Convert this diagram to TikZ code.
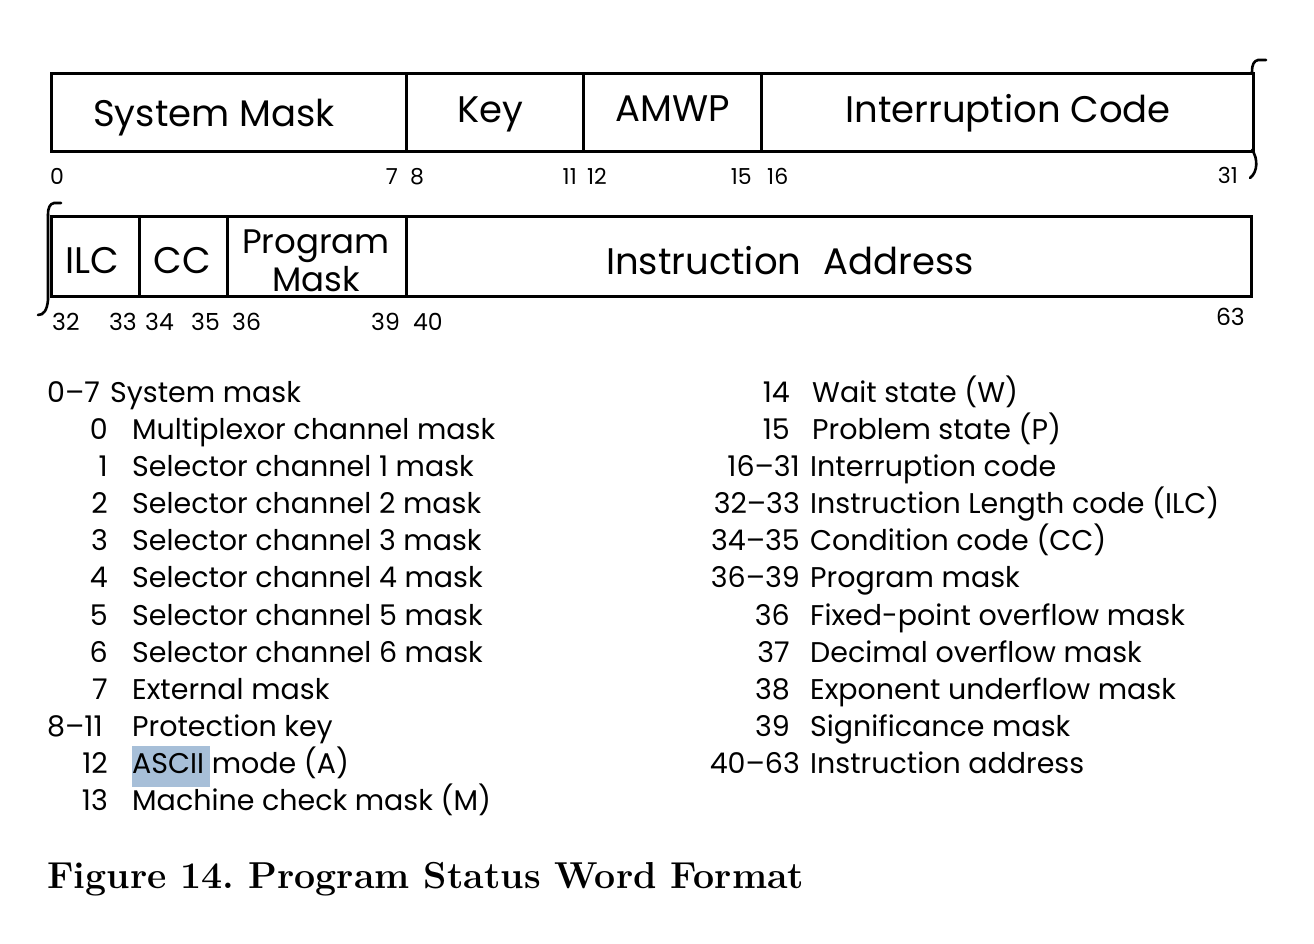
\documentclass[tikz,border=0pt]{standalone}
\usepackage{fontspec}
\newfontfamily\pop{Poppins}
\begin{document}
\begin{tikzpicture}[x=1pt,y=-1pt,
  fieldbox/.style={draw, line width=2.6pt, inner sep=0pt, anchor=north west},
  flabel/.style={font=\pop\fontsize{37}{40}\selectfont, inner sep=0pt, anchor=base},
  flabels/.style={font=\pop\fontsize{34}{38}\selectfont, inner sep=0pt, anchor=base},
  bitl/.style={font=\pop\fontsize{22}{24}\selectfont, inner sep=0pt, anchor=base west},
  bitr/.style={font=\pop\fontsize{22}{24}\selectfont, inner sep=0pt, anchor=base east},
  bitlb/.style={font=\pop\fontsize{23.5}{26}\selectfont, inner sep=0pt, anchor=base west},
  bitrb/.style={font=\pop\fontsize{23.5}{26}\selectfont, inner sep=0pt, anchor=base east},
  itm/.style={font=\pop\fontsize{28.5}{32}\selectfont, inner sep=0pt, anchor=base west},
  num/.style={font=\pop\fontsize{28.5}{32}\selectfont, inner sep=0pt, anchor=base east},
  hookline/.style={line width=2.6pt, line cap=round}]
\useasboundingbox (0,0) rectangle (1314,943);
% ---- row 1 ----
\node[fieldbox, minimum width=355, minimum height=78] (sm) at (50,72) {};
\node[fieldbox, minimum width=177, minimum height=78] (key) at (405,72) {};
\node[fieldbox, minimum width=178, minimum height=78] (amwp) at (582,72) {};
\node[fieldbox, minimum width=492, minimum height=78] (ic) at (760,72) {};
\node[flabel] (tsm) at (214,126) {System Mask};
\node[flabel] (tkey) at (490,122) {Key};
\node[flabel] (tamwp) at (673,121) {AMWP};
\node[flabel] (tic) at (1008,122) {Interruption Code};
\node[bitl] (b0) at (50,184) {0};
\node[bitr] (b7) at (398,184) {7};
\node[bitl] (b8) at (410,184) {8};
\node[bitr] (b11) at (577,184) {11};
\node[bitl] (b12) at (587,184) {12};
\node[bitr] (b15) at (752,184) {15};
\node[bitl] (b16) at (767,184) {16};
\node[bitr] (b31) at (1238,183) {31};
\draw[hookline] (1252,72) .. controls (1252,64) and (1254,61) .. (1258,60) -- (1266,60);
\draw[hookline] (1252,150) .. controls (1258,158) and (1258,172) .. (1250,178);
% ---- row 2 ----
\node[fieldbox, minimum width=88, minimum height=80] (ilc) at (50,215) {};
\node[fieldbox, minimum width=88, minimum height=80] (cc) at (138,215) {};
\node[fieldbox, minimum width=179, minimum height=80] (pm) at (226,215) {};
\node[fieldbox, minimum width=845, minimum height=80] (ia) at (405,215) {};
\node[flabel] (tilc) at (92,273) {ILC};
\node[flabel] (tcc) at (182,273) {CC};
\node[flabels] (tpm1) at (316,253) {Program};
\node[flabels] (tpm2) at (316,291) {Mask};
\node[flabel] (tia) at (790,274) {Instruction\hspace{0.6em}Address};
\node[bitlb] (b32) at (52,330) {32};
\node[bitrb] (b33) at (137,330) {33};
\node[bitlb] (b34) at (145,330) {34};
\node[bitrb] (b35) at (220,330) {35};
\node[bitlb] (b36) at (232,330) {36};
\node[bitrb] (b39) at (400,330) {39};
\node[bitlb] (b40) at (413,330) {40};
\node[bitrb] (b63) at (1245,325) {63};
\draw[hookline] (48,215) .. controls (48,207) and (50,204) .. (54,203) -- (61,203);
\draw[hookline] (48,215) -- (48,300) .. controls (47,310) and (44,315) .. (38,315);
% ---- highlight ----
\fill[fill={rgb,255:red,167;green,191;blue,216}] (132,746) rectangle (210,787);
% ---- left list ----
\node[itm] (l0a) at (47,402) {0–7};
\node[itm] (l0b) at (110,402) {System mask};
\node[num] (l1n) at (108,439) {0};   \node[itm] (l1t) at (132,439) {Multiplexor channel mask};
\node[num] (l2n) at (108,476) {1};   \node[itm] (l2t) at (132,476) {Selector channel 1 mask};
\node[num] (l3n) at (108,513) {2};   \node[itm] (l3t) at (132,513) {Selector channel 2 mask};
\node[num] (l4n) at (108,550) {3};   \node[itm] (l4t) at (132,550) {Selector channel 3 mask};
\node[num] (l5n) at (108,587) {4};   \node[itm] (l5t) at (132,587) {Selector channel 4 mask};
\node[num] (l6n) at (108,625) {5};   \node[itm] (l6t) at (132,625) {Selector channel 5 mask};
\node[num] (l7n) at (108,662) {6};   \node[itm] (l7t) at (132,662) {Selector channel 6 mask};
\node[num] (l8n) at (108,699) {7};   \node[itm] (l8t) at (132,699) {External mask};
\node[itm] (l9n) at (47,736) {8–11}; \node[itm] (l9t) at (132,736) {Protection key};
\node[num] (l10n) at (108,773) {12}; \node[itm] (l10t) at (132,773) {ASCII mode (A)};
\node[num] (l11n) at (108,810) {13}; \node[itm] (l11t) at (132,810) {Machine check mask (M)};
% ---- right list ----
\node[num] (r1n) at (790,402) {14};    \node[itm] (r1t) at (812,402) {Wait state (W)};
\node[num] (r2n) at (790,439) {15};    \node[itm] (r2t) at (812,439) {Problem state (P)};
\node[num] (r3n) at (800,476) {16–31}; \node[itm] (r3t) at (810,476) {Interruption code};
\node[num] (r4n) at (800,513) {32–33}; \node[itm] (r4t) at (810,513) {Instruction Length code (ILC)};
\node[num] (r5n) at (800,550) {34–35}; \node[itm] (r5t) at (810,550) {Condition code (CC)};
\node[num] (r6n) at (800,587) {36–39}; \node[itm] (r6t) at (810,587) {Program mask};
\node[num] (r7n) at (790,625) {36};    \node[itm] (r7t) at (810,625) {Fixed-point overflow mask};
\node[num] (r8n) at (790,662) {37};    \node[itm] (r8t) at (810,662) {Decimal overflow mask};
\node[num] (r9n) at (790,699) {38};    \node[itm] (r9t) at (810,699) {Exponent underflow mask};
\node[num] (r10n) at (790,736) {39};   \node[itm] (r10t) at (810,736) {Significance mask};
\node[num] (r11n) at (800,773) {40–63}; \node[itm] (r11t) at (810,773) {Instruction address};
% ---- caption ----
\node[font=\bfseries\fontsize{37.5}{42}\selectfont, inner sep=0pt, anchor=base west] (cap) at (47,888) {Figure 14.\ Program Status Word Format};
\end{tikzpicture}
\end{document}
